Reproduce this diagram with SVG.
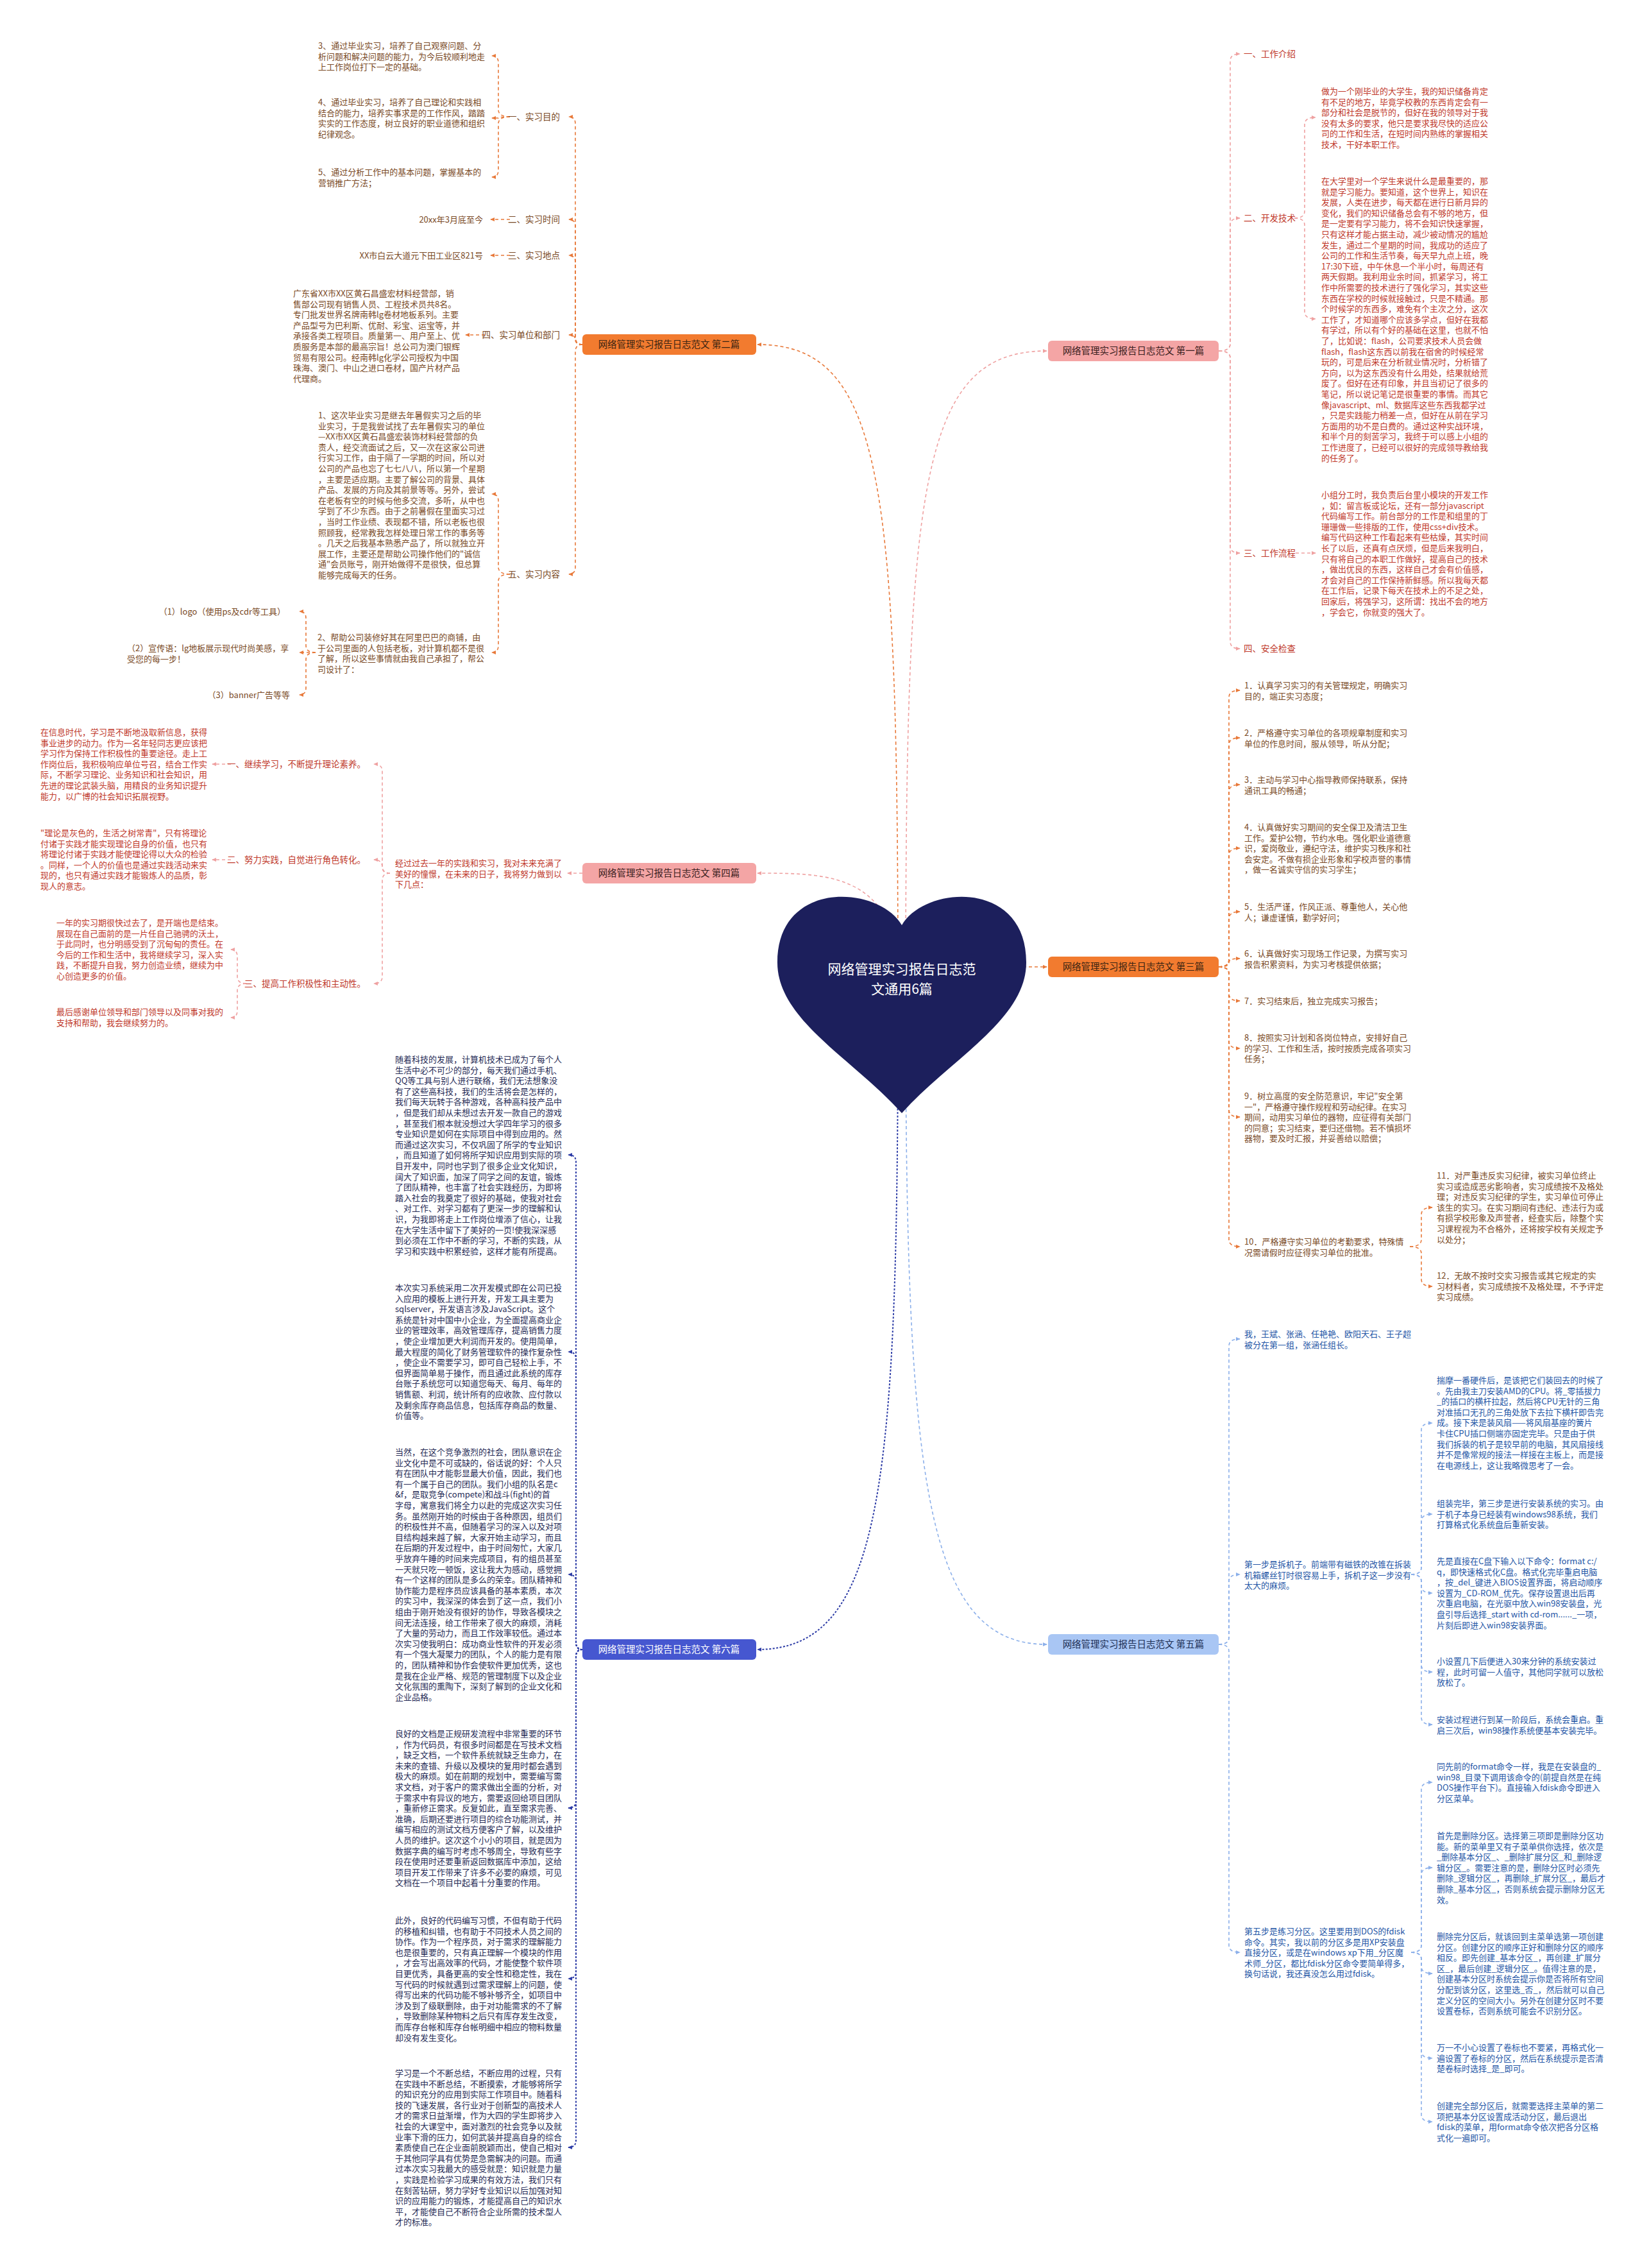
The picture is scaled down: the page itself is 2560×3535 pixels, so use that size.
<svg xmlns="http://www.w3.org/2000/svg" width="2560" height="3535" viewBox="0 0 2560 3535">
<style>
text{font-family:"Noto Sans CJK SC","Noto Sans",sans-serif;font-size:13px}
.o{fill:#7a4a26}.p{fill:#c0392b}.b{fill:#2456a6}.d{fill:#262b56}
.lbl{font-size:13.5px}
.node{font-size:14.5px;text-anchor:middle}
.co{fill:none;stroke:#e8793a;stroke-width:1.6;stroke-dasharray:5 4}
.cp{fill:none;stroke:#efa1a1;stroke-width:1.6;stroke-dasharray:5 4}
.cb{fill:none;stroke:#8cb0ea;stroke-width:1.6;stroke-dasharray:5 4}
.cd{fill:none;stroke:#2d3ca6;stroke-width:2;stroke-dasharray:3 2.5}
</style>
<defs>
<marker id="mo" viewBox="0 0 10 10" refX="8" refY="5" markerWidth="8" markerHeight="8" markerUnits="userSpaceOnUse" orient="auto"><path d="M0,1 L9,5 L0,9 z" fill="#e8793a"/></marker>
<marker id="mp" viewBox="0 0 10 10" refX="8" refY="5" markerWidth="8" markerHeight="8" markerUnits="userSpaceOnUse" orient="auto"><path d="M0,1 L9,5 L0,9 z" fill="#efa1a1"/></marker>
<marker id="mb" viewBox="0 0 10 10" refX="8" refY="5" markerWidth="8" markerHeight="8" markerUnits="userSpaceOnUse" orient="auto"><path d="M0,1 L9,5 L0,9 z" fill="#8cb0ea"/></marker>
<marker id="md" viewBox="0 0 10 10" refX="8" refY="5" markerWidth="8" markerHeight="8" markerUnits="userSpaceOnUse" orient="auto"><path d="M0,1 L9,5 L0,9 z" fill="#2d3ca6"/></marker>
</defs>
<rect width="2560" height="3535" fill="#ffffff"/>

<g id="connectors">
<!-- center to branches -->
<path class="co" marker-end="url(#mo)" d="M1400 1557 C1400 760 1380 537 1181 537"/>
<path class="cp" marker-end="url(#mp)" d="M1412 1557 C1412 760 1432 547 1632 547"/>
<path class="co" marker-end="url(#mo)" d="M1406 1507 L1632 1507"/>
<path class="cp" marker-end="url(#mp)" d="M1406 1557 C1406 1361 1300 1361 1181 1361"/>
<path class="cb" marker-end="url(#mb)" d="M1412 1557 C1412 2300 1440 2563 1632 2563"/>
<path class="cd" marker-end="url(#md)" d="M1400 1557 C1400 2300 1380 2571 1181 2571"/>

<!-- 第二篇 -->
<path class="co" marker-end="url(#mo)" d="M908 537 Q897 537 897 526 L897 193 Q897 182 887 182"/>
<path class="co" marker-end="url(#mo)" d="M908 537 Q897 537 897 526 L897 353 Q897 342 887 342"/>
<path class="co" marker-end="url(#mo)" d="M908 537 Q897 537 897 526 L897 409 Q897 398 887 398"/>
<path class="co" marker-end="url(#mo)" d="M908 537 Q897 537 897 530 Q897 522 887 522"/>
<path class="co" marker-end="url(#mo)" d="M908 537 Q897 537 897 548 L897 884 Q897 895 887 895"/>
<path class="co" marker-end="url(#mo)" d="M795 182 Q777 182 777 171 L777 98 Q777 87 767 87"/>
<path class="co" marker-end="url(#mo)" d="M795 182 Q777 182 777 184 L767 184"/>
<path class="co" marker-end="url(#mo)" d="M795 182 Q777 182 777 193 L777 265 Q777 276 767 276"/>
<path class="co" marker-end="url(#mo)" d="M795 342 L765 342"/>
<path class="co" marker-end="url(#mo)" d="M795 398 L765 398"/>
<path class="co" marker-end="url(#mo)" d="M756 522 L726 522"/>
<path class="co" marker-end="url(#mo)" d="M795 895 Q777 895 777 884 L777 781 Q777 770 767 770"/>
<path class="co" marker-end="url(#mo)" d="M795 895 Q777 895 777 906 L777 1006 Q777 1017 767 1017"/>
<path class="co" marker-end="url(#mo)" d="M492 1017 Q477 1017 477 1006 L477 964 Q477 953 467 953"/>
<path class="co" marker-end="url(#mo)" d="M492 1017 L467 1017"/>
<path class="co" marker-end="url(#mo)" d="M492 1017 Q477 1017 477 1028 L477 1072 Q477 1083 467 1083"/>

<!-- 第一篇 -->
<path class="cp" marker-end="url(#mp)" d="M1900 547 Q1918 547 1918 536 L1918 95 Q1918 84 1933 84"/>
<path class="cp" marker-end="url(#mp)" d="M1900 547 Q1918 547 1918 536 L1918 351 Q1918 340 1933 340"/>
<path class="cp" marker-end="url(#mp)" d="M1900 547 Q1918 547 1918 558 L1918 851 Q1918 862 1933 862"/>
<path class="cp" marker-end="url(#mp)" d="M1900 547 Q1918 547 1918 558 L1918 1000 Q1918 1011 1933 1011"/>
<path class="cp" marker-end="url(#mp)" d="M2018 340 Q2034 340 2034 329 L2034 194 Q2034 183 2051 183"/>
<path class="cp" marker-end="url(#mp)" d="M2018 340 Q2034 340 2034 351 L2034 486 Q2034 497 2051 497"/>
<path class="cp" marker-end="url(#mp)" d="M2020 862 L2051 862"/>

<!-- 第三篇 -->
<path class="co" marker-end="url(#mo)" d="M1900 1507 Q1916 1507 1916 1496 L1916 1087 Q1916 1076 1933 1076"/>
<path class="co" marker-end="url(#mo)" d="M1900 1507 Q1916 1507 1916 1496 L1916 1161 Q1916 1150 1933 1150"/>
<path class="co" marker-end="url(#mo)" d="M1900 1507 Q1916 1507 1916 1496 L1916 1234 Q1916 1223 1933 1223"/>
<path class="co" marker-end="url(#mo)" d="M1900 1507 Q1916 1507 1916 1496 L1916 1333 Q1916 1322 1933 1322"/>
<path class="co" marker-end="url(#mo)" d="M1900 1507 Q1916 1507 1916 1496 L1916 1432 Q1916 1421 1933 1421"/>
<path class="co" marker-end="url(#mo)" d="M1900 1507 Q1916 1507 1916 1500 Q1916 1494 1933 1494"/>
<path class="co" marker-end="url(#mo)" d="M1900 1507 Q1916 1507 1916 1518 L1916 1549 Q1916 1560 1933 1560"/>
<path class="co" marker-end="url(#mo)" d="M1900 1507 Q1916 1507 1916 1518 L1916 1623 Q1916 1634 1933 1634"/>
<path class="co" marker-end="url(#mo)" d="M1900 1507 Q1916 1507 1916 1518 L1916 1730 Q1916 1741 1933 1741"/>
<path class="co" marker-end="url(#mo)" d="M1900 1507 Q1916 1507 1916 1518 L1916 1932 Q1916 1943 1933 1943"/>
<path class="co" marker-end="url(#mo)" d="M2198 1943 Q2216 1943 2216 1932 L2216 1893 Q2216 1882 2233 1882"/>
<path class="co" marker-end="url(#mo)" d="M2198 1943 Q2216 1943 2216 1954 L2216 1994 Q2216 2005 2233 2005"/>

<!-- 第四篇 -->
<path class="cp" marker-end="url(#mp)" d="M908 1361 L885 1361"/>
<path class="cp" marker-end="url(#mp)" d="M608 1361 Q596 1361 596 1350 L596 1202 Q596 1191 583 1191"/>
<path class="cp" marker-end="url(#mp)" d="M608 1361 Q596 1361 596 1352 Q596 1340 583 1340"/>
<path class="cp" marker-end="url(#mp)" d="M608 1361 Q596 1361 596 1372 L596 1522 Q596 1533 583 1533"/>
<path class="cp" marker-end="url(#mp)" d="M360 1191 L331 1191"/>
<path class="cp" marker-end="url(#mp)" d="M360 1340 L331 1340"/>
<path class="cp" marker-end="url(#mp)" d="M384 1533 Q370 1533 370 1522 L370 1491 Q370 1480 360 1480"/>
<path class="cp" marker-end="url(#mp)" d="M384 1533 Q370 1533 370 1544 L370 1575 Q370 1586 360 1586"/>

<!-- 第五篇 -->
<path class="cb" marker-end="url(#mb)" d="M1900 2563 Q1916 2563 1916 2552 L1916 2098 Q1916 2087 1933 2087"/>
<path class="cb" marker-end="url(#mb)" d="M1900 2563 Q1916 2563 1916 2552 L1916 2465 Q1916 2454 1933 2454"/>
<path class="cb" marker-end="url(#mb)" d="M1900 2563 Q1916 2563 1916 2574 L1916 3032 Q1916 3043 1933 3043"/>
<path class="cb" marker-end="url(#mb)" d="M2200 2454 Q2216 2454 2216 2443 L2216 2229 Q2216 2218 2233 2218"/>
<path class="cb" marker-end="url(#mb)" d="M2200 2454 Q2216 2454 2216 2443 L2216 2371 Q2216 2360 2233 2360"/>
<path class="cb" marker-end="url(#mb)" d="M2200 2454 Q2216 2454 2216 2465 L2216 2472 Q2216 2483 2233 2483"/>
<path class="cb" marker-end="url(#mb)" d="M2200 2454 Q2216 2454 2216 2465 L2216 2595 Q2216 2606 2233 2606"/>
<path class="cb" marker-end="url(#mb)" d="M2200 2454 Q2216 2454 2216 2465 L2216 2677 Q2216 2688 2233 2688"/>
<path class="cb" marker-end="url(#mb)" d="M2200 3043 Q2216 3043 2216 3032 L2216 2789 Q2216 2778 2233 2778"/>
<path class="cb" marker-end="url(#mb)" d="M2200 3043 Q2216 3043 2216 3032 L2216 2922 Q2216 2911 2233 2911"/>
<path class="cb" marker-end="url(#mb)" d="M2200 3043 Q2216 3043 2216 3054 L2216 3065 Q2216 3076 2233 3076"/>
<path class="cb" marker-end="url(#mb)" d="M2200 3043 Q2216 3043 2216 3054 L2216 3197 Q2216 3208 2233 3208"/>
<path class="cb" marker-end="url(#mb)" d="M2200 3043 Q2216 3043 2216 3054 L2216 3296 Q2216 3307 2233 3307"/>

<!-- 第六篇 -->
<path class="cd" marker-end="url(#md)" d="M908 2571 Q898 2571 898 2560 L898 1811 Q898 1800 886 1800"/>
<path class="cd" marker-end="url(#md)" d="M908 2571 Q898 2571 898 2560 L898 2118 Q898 2107 886 2107"/>
<path class="cd" marker-end="url(#md)" d="M908 2571 Q898 2571 898 2560 L898 2465 Q898 2454 886 2454"/>
<path class="cd" marker-end="url(#md)" d="M908 2571 Q898 2571 898 2582 L898 2807 Q898 2818 886 2818"/>
<path class="cd" marker-end="url(#md)" d="M908 2571 Q898 2571 898 2582 L898 3073 Q898 3084 886 3084"/>
<path class="cd" marker-end="url(#md)" d="M908 2571 Q898 2571 898 2582 L898 3336 Q898 3347 886 3347"/>
</g>

<g id="center">
<path d="M1406 1442 C1370 1380 1212 1370 1212 1500 C1212 1590 1330 1650 1406 1735 C1482 1650 1600 1590 1600 1500 C1600 1370 1442 1380 1406 1442 Z" fill="#1c1f5c"/>
<text x="1406" y="1518" fill="#ffffff" style="font-size:21px" text-anchor="middle">网络管理实习报告日志范</text>
<text x="1406" y="1549" fill="#ffffff" style="font-size:21px" text-anchor="middle">文通用6篇</text>
</g>

<g id="b2">
<rect x="908" y="521" width="271" height="32" rx="6" fill="#f27b2f"/>
<text class="node" x="1043" y="542" fill="#3a2412">网络管理实习报告日志范文 第二篇</text>
</g>
<g id="b2-1">
<text class="o lbl" x="873" y="187" text-anchor="end">一、实习目的</text>
<text class="o" x="496" y="76"><tspan x="496">3、通过毕业实习，培养了自己观察问题、分</tspan><tspan x="496" dy="16.6">析问题和解决问题的能力，为今后较顺利地走</tspan><tspan x="496" dy="16.6">上工作岗位打下一定的基础。</tspan></text>
<text class="o" x="496" y="164"><tspan x="496">4、通过毕业实习，培养了自己理论和实践相</tspan><tspan x="496" dy="16.6">结合的能力，培养实事求是的工作作风，踏踏</tspan><tspan x="496" dy="16.6">实实的工作态度，树立良好的职业道德和组织</tspan><tspan x="496" dy="16.6">纪律观念。</tspan></text>
<text class="o" x="496" y="273"><tspan x="496">5、通过分析工作中的基本问题，掌握基本的</tspan><tspan x="496" dy="16.6">营销推广方法；</tspan></text>
</g>
<g id="b2-2">
<text class="o lbl" x="873" y="347" text-anchor="end">二、实习时间</text>
<text class="o" x="753" y="347" text-anchor="end">20xx年3月底至今</text>
</g>
<g id="b2-3">
<text class="o lbl" x="873" y="403" text-anchor="end">三、实习地点</text>
<text class="o" x="753" y="403" text-anchor="end">XX市白云大道元下田工业区821号</text>
</g>
<g id="b2-4">
<text class="o lbl" x="873" y="527" text-anchor="end">四、实习单位和部门</text>
<text class="o" x="457" y="462"><tspan x="457">广东省XX市XX区黄石昌盛宏材料经营部，销</tspan><tspan x="457" dy="16.6">售部公司现有销售人员、工程技术员共8名。</tspan><tspan x="457" dy="16.6">专门批发世界名牌南韩lg卷材地板系列。主要</tspan><tspan x="457" dy="16.6">产品型号为巴利斯、优耐、彩宝、运宝等，并</tspan><tspan x="457" dy="16.6">承接各类工程项目。质量第一、用户至上、优</tspan><tspan x="457" dy="16.6">质服务是本部的最高宗旨！总公司为澳门银辉</tspan><tspan x="457" dy="16.6">贸易有限公司。经南韩lg化学公司授权为中国</tspan><tspan x="457" dy="16.6">珠海、澳门、中山之进口卷材，国产片材产品</tspan><tspan x="457" dy="16.6">代理商。</tspan></text>
</g>
<g id="b2-5">
<text class="o lbl" x="873" y="900" text-anchor="end">五、实习内容</text>
<text class="o" x="496" y="652"><tspan x="496">1、这次毕业实习是继去年暑假实习之后的毕</tspan><tspan x="496" dy="16.6">业实习，于是我尝试找了去年暑假实习的单位</tspan><tspan x="496" dy="16.6">—XX市XX区黄石昌盛宏装饰材料经营部的负</tspan><tspan x="496" dy="16.6">责人，经交流面试之后，又一次在这家公司进</tspan><tspan x="496" dy="16.6">行实习工作，由于隔了一学期的时间，所以对</tspan><tspan x="496" dy="16.6">公司的产品也忘了七七八八，所以第一个星期</tspan><tspan x="496" dy="16.6">，主要是适应期。主要了解公司的背景、具体</tspan><tspan x="496" dy="16.6">产品、发展的方向及其前景等等。另外，尝试</tspan><tspan x="496" dy="16.6">在老板有空的时候与他多交流，多听，从中也</tspan><tspan x="496" dy="16.6">学到了不少东西。由于之前暑假在里面实习过</tspan><tspan x="496" dy="16.6">，当时工作业绩、表现都不错，所以老板也很</tspan><tspan x="496" dy="16.6">照顾我，经常教我怎样处理日常工作的事务等</tspan><tspan x="496" dy="16.6">。几天之后我基本熟悉产品了，所以就独立开</tspan><tspan x="496" dy="16.6">展工作，主要还是帮助公司操作他们的"诚信</tspan><tspan x="496" dy="16.6">通"会员账号，刚开始做得不是很快，但总算</tspan><tspan x="496" dy="16.6">能够完成每天的任务。</tspan></text>
<text class="o" x="495" y="998"><tspan x="495">2、帮助公司装修好其在阿里巴巴的商铺，由</tspan><tspan x="495" dy="16.6">于公司里面的人包括老板，对计算机都不是很</tspan><tspan x="495" dy="16.6">了解，所以这些事情就由我自己承担了，帮公</tspan><tspan x="495" dy="16.6">司设计了：</tspan></text>
<text class="o" x="445" y="958" text-anchor="end">（1）logo（使用ps及cdr等工具）</text>
<text class="o" x="198" y="1015"><tspan x="198">（2）宣传语：lg地板展示现代时尚美感，享</tspan><tspan x="198" dy="16.6">受您的每一步！</tspan></text>
<text class="o" x="452" y="1088" text-anchor="end">（3）banner广告等等</text>
</g>

<g id="b1">
<rect x="1634" y="531" width="266" height="32" rx="6" fill="#f4a5a5"/>
<text class="node" x="1767" y="552" fill="#3a2020">网络管理实习报告日志范文 第一篇</text>
</g>
<g id="b1-1"><text class="p lbl" x="1939" y="89">一、工作介绍</text></g>
<g id="b1-2">
<text class="p lbl" x="1939" y="345">二、开发技术</text>
<text class="p" x="2060" y="147"><tspan x="2060">做为一个刚毕业的大学生，我的知识储备肯定</tspan><tspan x="2060" dy="16.6">有不足的地方，毕竟学校教的东西肯定会有一</tspan><tspan x="2060" dy="16.6">部分和社会是脱节的，但好在我的领导对于我</tspan><tspan x="2060" dy="16.6">没有太多的要求，他只是要求我尽快的适应公</tspan><tspan x="2060" dy="16.6">司的工作和生活，在短时间内熟练的掌握相关</tspan><tspan x="2060" dy="16.6">技术，干好本职工作。</tspan></text>
<text class="p" x="2060" y="287"><tspan x="2060">在大学里对一个学生来说什么是最重要的，那</tspan><tspan x="2060" dy="16.6">就是学习能力。要知道，这个世界上，知识在</tspan><tspan x="2060" dy="16.6">发展，人类在进步，每天都在进行日新月异的</tspan><tspan x="2060" dy="16.6">变化，我们的知识储备总会有不够的地方，但</tspan><tspan x="2060" dy="16.6">是一定要有学习能力，将不会知识快速掌握，</tspan><tspan x="2060" dy="16.6">只有这样才能占据主动，减少被动情况的尴尬</tspan><tspan x="2060" dy="16.6">发生，通过二个星期的时间，我成功的适应了</tspan><tspan x="2060" dy="16.6">公司的工作和生活节奏，每天早九点上班，晚</tspan><tspan x="2060" dy="16.6">17:30下班，中午休息一个半小时，每周还有</tspan><tspan x="2060" dy="16.6">两天假期。我利用业余时间，抓紧学习，将工</tspan><tspan x="2060" dy="16.6">作中所需要的技术进行了强化学习，其实这些</tspan><tspan x="2060" dy="16.6">东西在学校的时候就接触过，只是不精通。那</tspan><tspan x="2060" dy="16.6">个时候学的东西多，难免有个主次之分，这次</tspan><tspan x="2060" dy="16.6">工作了，才知道哪个应该多学点，但好在我都</tspan><tspan x="2060" dy="16.6">有学过，所以有个好的基础在这里，也就不怕</tspan><tspan x="2060" dy="16.6">了，比如说：flash，公司要求技术人员会做</tspan><tspan x="2060" dy="16.6">flash，flash这东西以前我在宿舍的时候经常</tspan><tspan x="2060" dy="16.6">玩的，可是后来在分析就业情况时，分析错了</tspan><tspan x="2060" dy="16.6">方向，以为这东西没有什么用处，结果就给荒</tspan><tspan x="2060" dy="16.6">废了。但好在还有印象，并且当初记了很多的</tspan><tspan x="2060" dy="16.6">笔记，所以说记笔记是很重要的事情。而其它</tspan><tspan x="2060" dy="16.6">像javascript、ml、数据库这些东西我都学过</tspan><tspan x="2060" dy="16.6">，只是实践能力稍差一点，但好在从前在学习</tspan><tspan x="2060" dy="16.6">方面用的功不是白费的。通过这种实战环境，</tspan><tspan x="2060" dy="16.6">和半个月的刻苦学习，我终于可以感上小组的</tspan><tspan x="2060" dy="16.6">工作进度了，已经可以很好的完成领导教给我</tspan><tspan x="2060" dy="16.6">的任务了。</tspan></text>
</g>
<g id="b1-3">
<text class="p lbl" x="1939" y="867">三、工作流程</text>
<text class="p" x="2060" y="776"><tspan x="2060">小组分工时，我负责后台里小模块的开发工作</tspan><tspan x="2060" dy="16.6">，如：留言板或论坛，还有一部分javascript</tspan><tspan x="2060" dy="16.6">代码编写工作。前台部分的工作是和组里的丁</tspan><tspan x="2060" dy="16.6">珊珊做一些排版的工作，使用css+div技术。</tspan><tspan x="2060" dy="16.6">编写代码这种工作看起来有些枯燥，其实时间</tspan><tspan x="2060" dy="16.6">长了以后，还真有点厌烦，但是后来我明白，</tspan><tspan x="2060" dy="16.6">只有将自己的本职工作做好，提高自己的技术</tspan><tspan x="2060" dy="16.6">，做出优良的东西，这样自己才会有价值感，</tspan><tspan x="2060" dy="16.6">才会对自己的工作保持新鲜感。所以我每天都</tspan><tspan x="2060" dy="16.6">在工作后，记录下每天在技术上的不足之处，</tspan><tspan x="2060" dy="16.6">回家后，将强学习，这所谓：找出不会的地方</tspan><tspan x="2060" dy="16.6">，学会它，你就变的强大了。</tspan></text>
</g>
<g id="b1-4"><text class="p lbl" x="1939" y="1016">四、安全检查</text></g>

<g id="b3">
<rect x="1634" y="1491" width="266" height="32" rx="6" fill="#f27b2f"/>
<text class="node" x="1767" y="1512" fill="#3a2412">网络管理实习报告日志范文 第三篇</text>
</g>
<g id="b3-items">
<text class="o" x="1940" y="1073"><tspan x="1940">1．认真学习实习的有关管理规定，明确实习</tspan><tspan x="1940" dy="16.6">目的，端正实习态度；</tspan></text>
<text class="o" x="1940" y="1147"><tspan x="1940">2．严格遵守实习单位的各项规章制度和实习</tspan><tspan x="1940" dy="16.6">单位的作息时间，服从领导，听从分配；</tspan></text>
<text class="o" x="1940" y="1220"><tspan x="1940">3．主动与学习中心指导教师保持联系，保持</tspan><tspan x="1940" dy="16.6">通讯工具的畅通；</tspan></text>
<text class="o" x="1940" y="1294"><tspan x="1940">4．认真做好实习期间的安全保卫及清洁卫生</tspan><tspan x="1940" dy="16.6">工作。爱护公物，节约水电。强化职业道德意</tspan><tspan x="1940" dy="16.6">识，爱岗敬业，遵纪守法，维护实习秩序和社</tspan><tspan x="1940" dy="16.6">会安定。不做有损企业形象和学校声誉的事情</tspan><tspan x="1940" dy="16.6">，做一名诚实守信的实习学生；</tspan></text>
<text class="o" x="1940" y="1418"><tspan x="1940">5．生活严谨，作风正派、尊重他人，关心他</tspan><tspan x="1940" dy="16.6">人；谦虚谨慎，勤学好问；</tspan></text>
<text class="o" x="1940" y="1491"><tspan x="1940">6．认真做好实习现场工作记录，为撰写实习</tspan><tspan x="1940" dy="16.6">报告积累资料，为实习考核提供依据；</tspan></text>
<text class="o" x="1940" y="1565">7．实习结束后，独立完成实习报告；</text>
<text class="o" x="1940" y="1622"><tspan x="1940">8．按照实习计划和各岗位特点，安排好自己</tspan><tspan x="1940" dy="16.6">的学习、工作和生活，按时按质完成各项实习</tspan><tspan x="1940" dy="16.6">任务；</tspan></text>
<text class="o" x="1940" y="1713"><tspan x="1940">9．树立高度的安全防范意识，牢记"安全第</tspan><tspan x="1940" dy="16.6">一"，严格遵守操作规程和劳动纪律。在实习</tspan><tspan x="1940" dy="16.6">期间，动用实习单位的器物，应征得有关部门</tspan><tspan x="1940" dy="16.6">的同意；实习结束，要归还借物。若不慎损坏</tspan><tspan x="1940" dy="16.6">器物，要及时汇报，并妥善给以赔偿；</tspan></text>
<text class="o" x="1940" y="1940"><tspan x="1940">10．严格遵守实习单位的考勤要求，特殊情</tspan><tspan x="1940" dy="16.6">况需请假时应征得实习单位的批准。</tspan></text>
<text class="o" x="2240" y="1837"><tspan x="2240">11．对严重违反实习纪律，被实习单位终止</tspan><tspan x="2240" dy="16.6">实习或造成恶劣影响者，实习成绩按不及格处</tspan><tspan x="2240" dy="16.6">理；对违反实习纪律的学生，实习单位可停止</tspan><tspan x="2240" dy="16.6">该生的实习。在实习期间有违纪、违法行为或</tspan><tspan x="2240" dy="16.6">有损学校形象及声誉者，经查实后，除整个实</tspan><tspan x="2240" dy="16.6">习课程视为不合格外，还将按学校有关规定予</tspan><tspan x="2240" dy="16.6">以处分；</tspan></text>
<text class="o" x="2240" y="1993"><tspan x="2240">12．无故不按时交实习报告或其它规定的实</tspan><tspan x="2240" dy="16.6">习材料者，实习成绩按不及格处理，不予评定</tspan><tspan x="2240" dy="16.6">实习成绩。</tspan></text>
</g>

<g id="b4">
<rect x="908" y="1345" width="271" height="32" rx="6" fill="#f4a5a5"/>
<text class="node" x="1043" y="1366" fill="#3a2020">网络管理实习报告日志范文 第四篇</text>
</g>
<g id="b4-items">
<text class="p" x="616" y="1350"><tspan x="616">经过过去一年的实践和实习，我对未来充满了</tspan><tspan x="616" dy="16.6">美好的憧憬，在未来的日子，我将努力做到以</tspan><tspan x="616" dy="16.6">下几点：</tspan></text>
<text class="p lbl" x="570" y="1196" text-anchor="end">一、继续学习，不断提升理论素养。</text>
<text class="p lbl" x="570" y="1345" text-anchor="end">二、努力实践，自觉进行角色转化。</text>
<text class="p lbl" x="570" y="1538" text-anchor="end">三、提高工作积极性和主动性。</text>
<text class="p" x="63" y="1146"><tspan x="63">在信息时代，学习是不断地汲取新信息，获得</tspan><tspan x="63" dy="16.6">事业进步的动力。作为一名年轻同志更应该把</tspan><tspan x="63" dy="16.6">学习作为保持工作积极性的重要途径。走上工</tspan><tspan x="63" dy="16.6">作岗位后，我积极响应单位号召，结合工作实</tspan><tspan x="63" dy="16.6">际，不断学习理论、业务知识和社会知识，用</tspan><tspan x="63" dy="16.6">先进的理论武装头脑，用精良的业务知识提升</tspan><tspan x="63" dy="16.6">能力，以广博的社会知识拓展视野。</tspan></text>
<text class="p" x="63" y="1303"><tspan x="63">"理论是灰色的，生活之树常青"，只有将理论</tspan><tspan x="63" dy="16.6">付诸于实践才能实现理论自身的价值，也只有</tspan><tspan x="63" dy="16.6">将理论付诸于实践才能使理论得以大众的检验</tspan><tspan x="63" dy="16.6">。同样，一个人的价值也是通过实践活动来实</tspan><tspan x="63" dy="16.6">现的，也只有通过实践才能锻炼人的品质，彰</tspan><tspan x="63" dy="16.6">现人的意志。</tspan></text>
<text class="p" x="88" y="1443"><tspan x="88">一年的实习期很快过去了，是开端也是结束。</tspan><tspan x="88" dy="16.6">展现在自己面前的是一片任自己驰骋的沃土，</tspan><tspan x="88" dy="16.6">于此同时，也分明感受到了沉甸甸的责任。在</tspan><tspan x="88" dy="16.6">今后的工作和生活中，我将继续学习，深入实</tspan><tspan x="88" dy="16.6">践，不断提升自我，努力创造业绩，继续为中</tspan><tspan x="88" dy="16.6">心创造更多的价值。</tspan></text>
<text class="p" x="88" y="1582"><tspan x="88">最后感谢单位领导和部门领导以及同事对我的</tspan><tspan x="88" dy="16.6">支持和帮助，我会继续努力的。</tspan></text>
</g>

<g id="b5">
<rect x="1634" y="2547" width="266" height="32" rx="6" fill="#a9c6f4"/>
<text class="node" x="1767" y="2568" fill="#1d2f55">网络管理实习报告日志范文 第五篇</text>
</g>
<g id="b5-items">
<text class="b" x="1940" y="2084"><tspan x="1940">我，王斌、张涵、任艳艳、欧阳天石、王子超</tspan><tspan x="1940" dy="16.6">被分在第一组，张涵任组长。</tspan></text>
<text class="b" x="1940" y="2443"><tspan x="1940">第一步是拆机子。前端带有磁铁的改锥在拆装</tspan><tspan x="1940" dy="16.6">机箱螺丝钉时很容易上手，拆机子这一步没有</tspan><tspan x="1940" dy="16.6">太大的麻烦。</tspan></text>
<text class="b" x="1940" y="3015"><tspan x="1940">第五步是练习分区。这里要用到DOS的fdisk</tspan><tspan x="1940" dy="16.6">命令。其实，我以前的分区多是用XP安装盘</tspan><tspan x="1940" dy="16.6">直接分区，或是在windows xp下用_分区魔</tspan><tspan x="1940" dy="16.6">术师_分区，都比fdisk分区命令要简单得多，</tspan><tspan x="1940" dy="16.6">换句话说，我还真没怎么用过fdisk。</tspan></text>
<text class="b" x="2240" y="2156"><tspan x="2240">揣摩一番硬件后，是该把它们装回去的时候了</tspan><tspan x="2240" dy="16.6">。先由我主刀安装AMD的CPU。将_零插拔力</tspan><tspan x="2240" dy="16.6">_的插口的横杆拉起，然后将CPU无针的三角</tspan><tspan x="2240" dy="16.6">对准插口无孔的三角处放下去拉下横杆即告完</tspan><tspan x="2240" dy="16.6">成。接下来是装风扇——将风扇基座的簧片</tspan><tspan x="2240" dy="16.6">卡住CPU插口侧端亦固定完毕。只是由于供</tspan><tspan x="2240" dy="16.6">我们拆装的机子是较早前的电脑，其风扇接线</tspan><tspan x="2240" dy="16.6">并不是像常规的接法一样接在主板上，而是接</tspan><tspan x="2240" dy="16.6">在电源线上，这让我略微思考了一会。</tspan></text>
<text class="b" x="2240" y="2348"><tspan x="2240">组装完毕，第三步是进行安装系统的实习。由</tspan><tspan x="2240" dy="16.6">于机子本身已经装有windows98系统，我们</tspan><tspan x="2240" dy="16.6">打算格式化系统盘后重新安装。</tspan></text>
<text class="b" x="2240" y="2438"><tspan x="2240">先是直接在C盘下输入以下命令：format c:/</tspan><tspan x="2240" dy="16.6">q，即快速格式化C盘。格式化完毕重启电脑</tspan><tspan x="2240" dy="16.6">，按_del_键进入BIOS设置界面，将启动顺序</tspan><tspan x="2240" dy="16.6">设置为_CD-ROM_优先。保存设置退出后再</tspan><tspan x="2240" dy="16.6">次重启电脑，在光驱中放入win98安装盘，光</tspan><tspan x="2240" dy="16.6">盘引导后选择_start with cd-rom......_一项，</tspan><tspan x="2240" dy="16.6">片刻后即进入win98安装界面。</tspan></text>
<text class="b" x="2240" y="2594"><tspan x="2240">小设置几下后便进入30来分钟的系统安装过</tspan><tspan x="2240" dy="16.6">程，此时可留一人值守，其他同学就可以放松</tspan><tspan x="2240" dy="16.6">放松了。</tspan></text>
<text class="b" x="2240" y="2685"><tspan x="2240">安装过程进行到某一阶段后，系统会重启。重</tspan><tspan x="2240" dy="16.6">启三次后，win98操作系统便基本安装完毕。</tspan></text>
<text class="b" x="2240" y="2758"><tspan x="2240">同先前的format命令一样，我是在安装盘的_</tspan><tspan x="2240" dy="16.6">win98_目录下调用该命令的(前提自然是在纯</tspan><tspan x="2240" dy="16.6">DOS操作平台下)。直接输入fdisk命令即进入</tspan><tspan x="2240" dy="16.6">分区菜单。</tspan></text>
<text class="b" x="2240" y="2866"><tspan x="2240">首先是删除分区。选择第三项即是删除分区功</tspan><tspan x="2240" dy="16.6">能。新的菜单里又有子菜单供你选择，依次是</tspan><tspan x="2240" dy="16.6">_删除基本分区_、_删除扩展分区_和_删除逻</tspan><tspan x="2240" dy="16.6">辑分区_。需要注意的是，删除分区时必须先</tspan><tspan x="2240" dy="16.6">删除_逻辑分区_，再删除_扩展分区_，最后才</tspan><tspan x="2240" dy="16.6">删除_基本分区_，否则系统会提示删除分区无</tspan><tspan x="2240" dy="16.6">效。</tspan></text>
<text class="b" x="2240" y="3023"><tspan x="2240">删除完分区后，就该回到主菜单选第一项创建</tspan><tspan x="2240" dy="16.6">分区。创建分区的顺序正好和删除分区的顺序</tspan><tspan x="2240" dy="16.6">相反。即先创建_基本分区_，再创建_扩展分</tspan><tspan x="2240" dy="16.6">区_，最后创建_逻辑分区_。值得注意的是，</tspan><tspan x="2240" dy="16.6">创建基本分区时系统会提示你是否将所有空间</tspan><tspan x="2240" dy="16.6">分配到该分区，这里选_否_，然后就可以自己</tspan><tspan x="2240" dy="16.6">定义分区的空间大小。另外在创建分区时不要</tspan><tspan x="2240" dy="16.6">设置卷标，否则系统可能会不识别分区。</tspan></text>
<text class="b" x="2240" y="3196"><tspan x="2240">万一不小心设置了卷标也不要紧，再格式化一</tspan><tspan x="2240" dy="16.6">遍设置了卷标的分区，然后在系统提示是否清</tspan><tspan x="2240" dy="16.6">楚卷标时选择_是_即可。</tspan></text>
<text class="b" x="2240" y="3287"><tspan x="2240">创建完全部分区后，就需要选择主菜单的第二</tspan><tspan x="2240" dy="16.6">项把基本分区设置成活动分区，最后退出</tspan><tspan x="2240" dy="16.6">fdisk的菜单，用format命令依次把各分区格</tspan><tspan x="2240" dy="16.6">式化一遍即可。</tspan></text>
</g>

<g id="b6">
<rect x="908" y="2555" width="271" height="32" rx="6" fill="#4657d0"/>
<text class="node" x="1043" y="2576" fill="#ffffff">网络管理实习报告日志范文 第六篇</text>
</g>
<g id="b6-items">
<text class="d" x="616" y="1656"><tspan x="616">随着科技的发展，计算机技术已成为了每个人</tspan><tspan x="616" dy="16.6">生活中必不可少的部分，每天我们通过手机、</tspan><tspan x="616" dy="16.6">QQ等工具与别人进行联络，我们无法想象没</tspan><tspan x="616" dy="16.6">有了这些高科技，我们的生活将会是怎样的，</tspan><tspan x="616" dy="16.6">我们每天玩转于各种游戏，各种高科技产品中</tspan><tspan x="616" dy="16.6">，但是我们却从未想过去开发一款自己的游戏</tspan><tspan x="616" dy="16.6">，甚至我们根本就没想过大学四年学习的很多</tspan><tspan x="616" dy="16.6">专业知识是如何在实际项目中得到应用的。然</tspan><tspan x="616" dy="16.6">而通过这次实习，不仅巩固了所学的专业知识</tspan><tspan x="616" dy="16.6">，而且知道了如何将所学知识应用到实际的项</tspan><tspan x="616" dy="16.6">目开发中，同时也学到了很多企业文化知识，</tspan><tspan x="616" dy="16.6">阔大了知识面，加深了同学之间的友谊，锻炼</tspan><tspan x="616" dy="16.6">了团队精神，也丰富了社会实践经历，为即将</tspan><tspan x="616" dy="16.6">踏入社会的我奠定了很好的基础，使我对社会</tspan><tspan x="616" dy="16.6">、对工作、对学习都有了更深一步的理解和认</tspan><tspan x="616" dy="16.6">识，为我即将走上工作岗位增添了信心，让我</tspan><tspan x="616" dy="16.6">在大学生活中留下了美好的一页!使我深深感</tspan><tspan x="616" dy="16.6">到必须在工作中不断的学习，不断的实践，从</tspan><tspan x="616" dy="16.6">学习和实践中积累经验，这样才能有所提高。</tspan></text>
<text class="d" x="616" y="2012"><tspan x="616">本次实习系统采用二次开发模式即在公司已投</tspan><tspan x="616" dy="16.6">入应用的模板上进行开发，开发工具主要为</tspan><tspan x="616" dy="16.6">sqlserver，开发语言涉及JavaScript。这个</tspan><tspan x="616" dy="16.6">系统是针对中国中小企业，为全面提高商业企</tspan><tspan x="616" dy="16.6">业的管理效率，高效管理库存，提高销售力度</tspan><tspan x="616" dy="16.6">，使企业增加更大利润而开发的。使用简单，</tspan><tspan x="616" dy="16.6">最大程度的简化了财务管理软件的操作复杂性</tspan><tspan x="616" dy="16.6">，使企业不需要学习，即可自己轻松上手，不</tspan><tspan x="616" dy="16.6">但界面简单易于操作，而且通过此系统的库存</tspan><tspan x="616" dy="16.6">台账子系统您可以知道您每天、每月、每年的</tspan><tspan x="616" dy="16.6">销售额、利润，统计所有的应收款、应付款以</tspan><tspan x="616" dy="16.6">及剩余库存商品信息，包括库存商品的数量、</tspan><tspan x="616" dy="16.6">价值等。</tspan></text>
<text class="d" x="616" y="2268"><tspan x="616">当然，在这个竞争激烈的社会，团队意识在企</tspan><tspan x="616" dy="16.6">业文化中是不可或缺的，俗话说的好：个人只</tspan><tspan x="616" dy="16.6">有在团队中才能彰显最大价值，因此，我们也</tspan><tspan x="616" dy="16.6">有一个属于自己的团队。我们小组的队名是c</tspan><tspan x="616" dy="16.6">&amp;f，是取竞争(compete)和战斗(fight)的首</tspan><tspan x="616" dy="16.6">字母，寓意我们将全力以赴的完成这次实习任</tspan><tspan x="616" dy="16.6">务。虽然刚开始的时候由于各种原因，组员们</tspan><tspan x="616" dy="16.6">的积极性并不高，但随着学习的深入以及对项</tspan><tspan x="616" dy="16.6">目结构越来越了解，大家开始主动学习，而且</tspan><tspan x="616" dy="16.6">在后期的开发过程中，由于时间匆忙，大家几</tspan><tspan x="616" dy="16.6">乎放弃午睡的时间来完成项目，有的组员甚至</tspan><tspan x="616" dy="16.6">一天就只吃一顿饭，这让我大为感动，感觉拥</tspan><tspan x="616" dy="16.6">有一个这样的团队是多么的荣幸。团队精神和</tspan><tspan x="616" dy="16.6">协作能力是程序员应该具备的基本素质，本次</tspan><tspan x="616" dy="16.6">的实习中，我深深的体会到了这一点，我们小</tspan><tspan x="616" dy="16.6">组由于刚开始没有很好的协作，导致各模块之</tspan><tspan x="616" dy="16.6">间无法连接，给工作带来了很大的麻烦，消耗</tspan><tspan x="616" dy="16.6">了大量的劳动力，而且工作效率较低。通过本</tspan><tspan x="616" dy="16.6">次实习使我明白：成功商业性软件的开发必须</tspan><tspan x="616" dy="16.6">有一个强大凝聚力的团队，个人的能力是有限</tspan><tspan x="616" dy="16.6">的，团队精神和协作会使软件更加优秀，这也</tspan><tspan x="616" dy="16.6">是我在企业严格、规范的管理制度下以及企业</tspan><tspan x="616" dy="16.6">文化氛围的熏陶下，深刻了解到的企业文化和</tspan><tspan x="616" dy="16.6">企业品格。</tspan></text>
<text class="d" x="616" y="2707"><tspan x="616">良好的文档是正规研发流程中非常重要的环节</tspan><tspan x="616" dy="16.6">，作为代码员，有很多时间都是在写技术文档</tspan><tspan x="616" dy="16.6">，缺乏文档，一个软件系统就缺乏生命力，在</tspan><tspan x="616" dy="16.6">未来的查错、升级以及模块的复用时都会遇到</tspan><tspan x="616" dy="16.6">极大的麻烦。如在前期的规划中，需要编写需</tspan><tspan x="616" dy="16.6">求文档，对于客户的需求做出全面的分析，对</tspan><tspan x="616" dy="16.6">于需求中有异议的地方，需要返回给项目团队</tspan><tspan x="616" dy="16.6">，重新修正需求。反复如此，直至需求完善、</tspan><tspan x="616" dy="16.6">准确，后期还要进行项目的综合功能测试，并</tspan><tspan x="616" dy="16.6">编写相应的测试文档方便客户了解，以及维护</tspan><tspan x="616" dy="16.6">人员的维护。这次这个小小的项目，就是因为</tspan><tspan x="616" dy="16.6">数据字典的编写时考虑不够周全，导致有些字</tspan><tspan x="616" dy="16.6">段在使用时还要重新返回数据库中添加，这给</tspan><tspan x="616" dy="16.6">项目开发工作带来了许多不必要的麻烦，可见</tspan><tspan x="616" dy="16.6">文档在一个项目中起着十分重要的作用。</tspan></text>
<text class="d" x="616" y="2998"><tspan x="616">此外，良好的代码编写习惯，不但有助于代码</tspan><tspan x="616" dy="16.6">的移植和纠错，也有助于不同技术人员之间的</tspan><tspan x="616" dy="16.6">协作。作为一个程序员，对于需求的理解能力</tspan><tspan x="616" dy="16.6">也是很重要的，只有真正理解一个模块的作用</tspan><tspan x="616" dy="16.6">，才会写出高效率的代码，才能使整个软件项</tspan><tspan x="616" dy="16.6">目更优秀，具备更高的安全性和稳定性，我在</tspan><tspan x="616" dy="16.6">写代码的时候就遇到过需求理解上的问题，使</tspan><tspan x="616" dy="16.6">得写出来的代码功能不够补够齐全，如项目中</tspan><tspan x="616" dy="16.6">涉及到了级联删除，由于对功能需求的不了解</tspan><tspan x="616" dy="16.6">，导致删除某种物料之后只有库存发生改变，</tspan><tspan x="616" dy="16.6">而库存台帐和库存台帐明细中相应的物料数量</tspan><tspan x="616" dy="16.6">却没有发生变化。</tspan></text>
<text class="d" x="616" y="3236"><tspan x="616">学习是一个不断总结，不断应用的过程，只有</tspan><tspan x="616" dy="16.6">在实践中不断总结，不断摸索，才能够将所学</tspan><tspan x="616" dy="16.6">的知识充分的应用到实际工作项目中。随着科</tspan><tspan x="616" dy="16.6">技的飞速发展，各行业对于创新型的高技术人</tspan><tspan x="616" dy="16.6">才的需求日益渐增，作为大四的学生即将步入</tspan><tspan x="616" dy="16.6">社会的大课堂中，面对激烈的社会竞争以及就</tspan><tspan x="616" dy="16.6">业率下滑的压力，如何武装并提高自身的综合</tspan><tspan x="616" dy="16.6">素质使自己在企业面前脱颖而出，使自己相对</tspan><tspan x="616" dy="16.6">于其他同学具有优势是急需解决的问题。而通</tspan><tspan x="616" dy="16.6">过本次实习我最大的感受就是：知识就是力量</tspan><tspan x="616" dy="16.6">，实践是检验学习成果的有效方法，我们只有</tspan><tspan x="616" dy="16.6">在刻苦钻研，努力学好专业知识以后加强对知</tspan><tspan x="616" dy="16.6">识的应用能力的锻炼，才能提高自己的知识水</tspan><tspan x="616" dy="16.6">平，才能使自己不断符合企业所需的技术型人</tspan><tspan x="616" dy="16.6">才的标准。</tspan></text>
</g>
</svg>
